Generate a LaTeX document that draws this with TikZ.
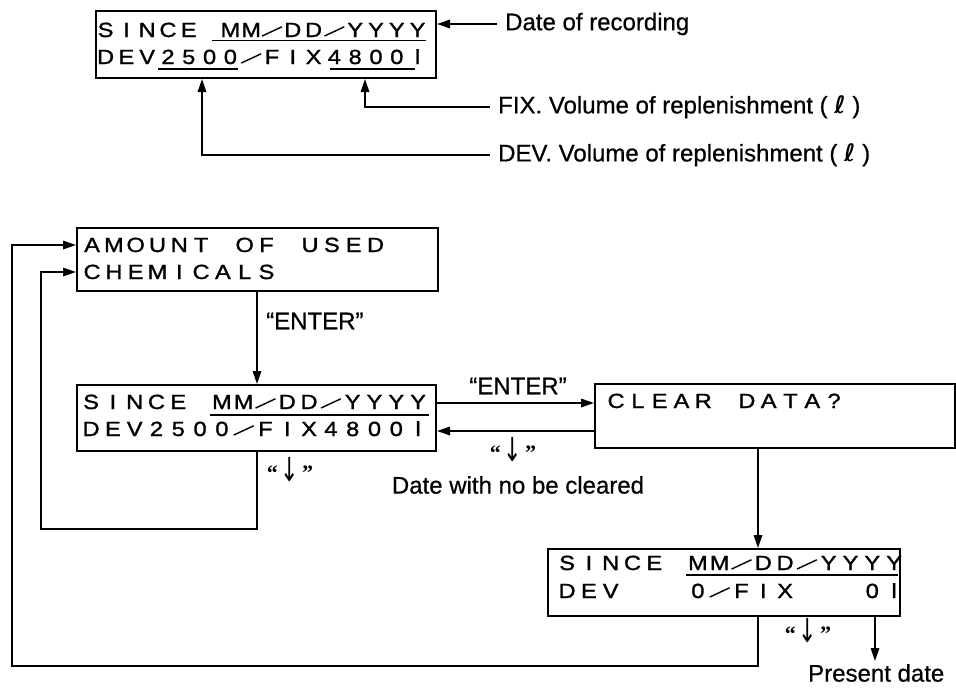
\documentclass[tikz,border=0pt]{standalone}
\usepackage{fontspec}
\setmainfont{Liberation Sans}
\newfontfamily\lcdfont{Liberation Sans}[FakeBold=1.2]
\newfontfamily\lblfont{Liberation Sans}[FakeBold=0.6]
\newfontfamily\djv{DejaVu Sans}
\newfontfamily\qfont{Liberation Serif}
\usetikzlibrary{arrows.meta}

\newlength\lcdcw
\def\lcdend{\relax lcdend}
\newcommand\lcdslash{\raisebox{0.3pt}{\rotatebox{25}{\rule{22pt}{1.4pt}}}}
\newcommand\lcdglyph[1]{\ifx*#1\relax\else\ifx/#1\lcdslash\else\scalebox{1.15}[1]{#1}\fi\fi}
\newcommand\lcdchar[1]{\makebox[\lcdcw][c]{\lcdglyph{#1}}}
\def\lcdloop#1{\ifx#1\lcdend\else\lcdchar{#1}\expandafter\lcdloop\fi}
\newcommand\lcdrow[2][21.8pt]{\setlength\lcdcw{#1}\lcdloop#2\lcdend}
\newcommand\keydown{{\qfont\bfseries\fontsize{22}{24}\selectfont “}\hspace{3pt}\raisebox{-1.5pt}{\scalebox{1}[1.5]{\djv\fontsize{22}{24}\selectfont ↓}}\hspace{3pt}{\qfont\bfseries\fontsize{22}{24}\selectfont ”}}
\newcommand\litre{{\djv\bfseries\itshape ℓ}}

\begin{document}
\begin{tikzpicture}[x=1pt,y=-1pt,
  lcdbox/.style={draw, line width=2pt, inner sep=0pt, anchor=north west},
  lcdtxt/.style={anchor=base west, inner sep=0pt, font=\lcdfont\fontsize{20.5}{22}\selectfont},
  lbl/.style={inner sep=0pt, font=\lblfont\fontsize{24}{28}\selectfont},
  keylbl/.style={inner sep=0pt},
  arr/.style={-{Triangle[length=13pt,width=8.5pt]}, line width=1.7pt},
  ul/.style={line width=1.4pt}]

\path[use as bounding box, fill=white] (0,0) rectangle (956,688);

% ---------- top legend box ----------
\node[lcdbox, minimum width=340pt, minimum height=67pt] (boxA) at (95,10) {};
\node[lcdtxt] (rowA1) at (95,37) {\lcdrow[20.8pt]{SINCE*MM/DD/YYYY}};
\node[lcdtxt] (rowA2) at (95,64) {\lcdrow[20.8pt]{DEV2500/FIX4800l}};
\draw[ul] ([xshift=117pt,yshift=-3.5pt]rowA1.base west) -- ([xshift=331pt,yshift=-3.5pt]rowA1.base west);
\draw[ul] ([xshift=63pt,yshift=-5pt]rowA2.base west) -- ([xshift=143pt,yshift=-5pt]rowA2.base west);
\draw[ul] ([xshift=235pt,yshift=-5pt]rowA2.base west) -- ([xshift=320pt,yshift=-5pt]rowA2.base west);

\node[lbl, anchor=west] (lDate) at (505,24) {Date of recording};
\node[lbl, anchor=west] (lFix) at (498,107) {FIX. Volume of replenishment ( \litre\ )};
\node[lbl, anchor=west] (lDev) at (498,155) {DEV. Volume of replenishment ( \litre\ )};

\draw[arr] ([xshift=-8pt]lDate.west) -- (lDate.west -| boxA.east);
\draw[arr] ([xshift=-8pt]lFix.west) -| ([xshift=270pt]boxA.south west);
\draw[arr] ([xshift=-8pt]lDev.west) -| ([xshift=107pt]boxA.south west);

% ---------- flow boxes ----------
\node[lcdbox, minimum width=361pt, minimum height=63pt] (boxAmt) at (76,227) {};
\node[lcdtxt] (rowB1) at (81,252) {\lcdrow{AMOUNT*OF*USED}};
\node[lcdtxt] (rowB2) at (81,279) {\lcdrow{CHEMICALS}};

\node[lcdbox, minimum width=359pt, minimum height=66pt] (boxMid) at (76,384) {};
\node[lcdtxt] (rowC1) at (80,409) {\lcdrow{SINCE*MM/DD/YYYY}};
\node[lcdtxt] (rowC2) at (80,436) {\lcdrow{DEV2500/FIX4800l}};
\draw[ul] ([xshift=130pt,yshift=-6pt]rowC1.base west) -- ([xshift=349pt,yshift=-6pt]rowC1.base west);

\node[lcdbox, minimum width=360pt, minimum height=64pt] (boxClr) at (594,383) {};
\node[lcdtxt] (rowD1) at (605,408) {\lcdrow{CLEAR*DATA?}};

\node[lcdbox, minimum width=352pt, minimum height=67pt] (boxBot) at (547,548) {};
\node[lcdtxt] (rowE1) at (556,570) {\lcdrow{SINCE*MM/DD/YYYY}};
\node[lcdtxt] (rowE2) at (556,598) {\lcdrow{DEV***0/FIX***0l}};
\draw[ul] ([xshift=130pt,yshift=-5pt]rowE1.base west) -- ([xshift=342pt,yshift=-5pt]rowE1.base west);

% ---------- labels ----------
\node[lbl, anchor=west] (lEnt1) at (266,321) {“ENTER”};
\node[lbl] (lEnt2) at (518,386) {“ENTER”};
\node[keylbl] (lDown2) at (513,450) {\keydown};
\node[lbl] (lNoClr) at (518,485) {Date with no be cleared};
\node[keylbl] (lDown1) at (290,470) {\keydown};
\node[keylbl] (lDown3) at (808,631) {\keydown};
\node[lbl, anchor=north west] (lPres) at (808,664) {Present date};

% ---------- guides ----------
\coordinate (gx1) at (257,0);
\coordinate (gx2) at (758,0);
\coordinate (gx3) at (875,0);
\coordinate (gxOut) at (12,0);
\coordinate (gxIn) at (41,0);
\coordinate (gyAout) at (0,245);
\coordinate (gyAin) at (0,272);
\coordinate (gyEnt) at (0,403);
\coordinate (gyRet) at (0,431);
\coordinate (gyIn) at (0,529);
\coordinate (gyOut) at (0,666);

% ---------- connectors ----------
\draw[arr] (boxAmt.south -| gx1) -- (boxMid.north -| gx1);
\draw[arr] (boxMid.east |- gyEnt) -- (boxClr.west |- gyEnt);
\draw[arr] (boxClr.west |- gyRet) -- (boxMid.east |- gyRet);
\draw[arr] (boxClr.south -| gx2) -- (boxBot.north -| gx2);
\draw[arr] (boxBot.south -| gx3) -- ([yshift=3pt]lPres.north -| gx3);
\draw[arr] (boxMid.south -| gx1) -- (gx1 |- gyIn) -- (gxIn |- gyIn) -- (gxIn |- gyAin) -- (boxAmt.west |- gyAin);
\draw[arr] (boxBot.south -| gx2) -- (gx2 |- gyOut) -- (gxOut |- gyOut) -- (gxOut |- gyAout) -- (boxAmt.west |- gyAout);
\end{tikzpicture}
\end{document}
